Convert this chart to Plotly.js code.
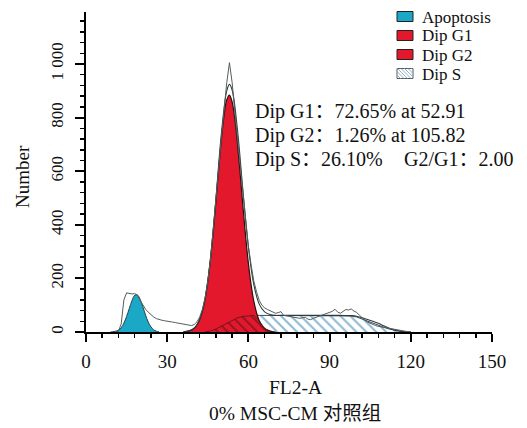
<!DOCTYPE html>
<html>
<head>
<meta charset="utf-8">
<script src="https://cdn.plot.ly/plotly-3.0.1.min.js"></script>
<style>html,body{margin:0;padding:0;background:#fff;}#chart{width:527px;height:428px;}</style>
</head>
<body>
<div id="chart"></div>
<script>
// ---------- data ----------
const rawX = [11,12,13,14,15,16,17,18,19,20,21,22,23,24,25,26,27,28,29,30,31,32,33,34,35,36,37,38,39,40,
  41,42,43,44,45,46,47,48,49,50,51,52,53,54,55,56,57,58,59,60,61,62,63,64,65,66,67,68,69,70,
  71,72,73,74,75,76,77,78,79,80,81,82,83,84,85,86,87,88,89,90,91,92,93,94,95,96,97,98,99,100,
  101,102,103,104,105,106,107,108,109,110,111,112,113,114,115,116,117,118,119,120];
const rawY = [0,3,30,120,146,144,142,143,138,118,100,85,74,64,56,50,46,44,42,41,39,37,35,33,31,29,27,25,24,28,
  38,56,85,128,190,272,375,490,610,725,830,930,1005,930,820,720,620,520,420,320,250,190,150,118,100,90,84,80,74,70,
  72,76,62,60,58,57,55,53,51,53,55,48,46,51,55,60,63,68,72,74,77,85,74,70,78,84,82,86,78,73,
  63,52,44,37,32,28,24,21,19,17,15,13,12,10,8,6,4,2,1,0];

const apoX = [9,10,11,12,13,14,15,16,17,18,19,20,21,22,23,24,25,26,27];
const apoY = [0,1,3,7,16,33,58,88,117,137,138,122,94,63,37,19,8,3,0];

const g1X = [36,37,38,39,40,41,42,43,44,45,46,47,48,49,50,51,52,53,54,55,56,57,58,59,60,61,62,63,64,65,66,67,68,69,70];
const g1Y = [1,2,4,7,14,27,47,78,124,189,272,373,487,606,717,808,866,884,858,794,698,585,466,354,256,176,115,72,42,24,13,7,3,1,0];

const g2X = [96,98,100,102,104,106,108,110,112,114,116];
const g2Y = [0,1,3,5,7,7.5,7,5,3,1,0];

const sX = [44,46,48,50,52,54,56,58,60,62,64,66,68,70,72,74,76,78,80,82,84,86,88,90,92,94,96,98,100,102,104,106,108,110,112,114,116,118,120];
const sY = [0,4,11,22,34,45,53,58,61,62,62,62,62,62,62,62,62,62,62,62,62,62,62,62,62,62,61,60,56,48,40,33,26,18,11,6,3,1,0];

// part of the S-phase fit that lies under the G1 peak
const sUnderX = [44,46,48,50,52,54,56,58,60,62,64,66,68,70];
const sUnderY = [0,4,11,22,34,45,53,58,61,62,42,13,3,0];

const fitX = [36,38,40,42,44,46,48,50,52,53,54,56,58,60,62,64,66,68,70,72,76,80,84,88,92,94,96,98,100,102,104,106,108,110,112,114,116,118,120];
const fitY = [1,4,14,47,124,276,498,739,900,924,903,751,524,317,177,104,75,65,62,62,62,62,62,62,62,62,61,61,59,53,47,40,33,23,14,7,3,1,0];

const markerX = [52];
const markerY = [-27];

const xTickVals = [0,30,60,90,120,150];
const xTickText = ['0','30','60','90','120','150'];
const yTickVals = [0,200,400,600,800,1000];
const yTickText = ['0','200','400','600','800','1 000'];

const legendNames = ['Apoptosis','Dip G1','Dip G2','Dip S'];
const statLines = ['Dip G1：72.65% at 52.91','Dip G2：1.26% at 105.82','Dip S：26.10%'];
const ratioText = 'G2/G1：2.00';
const xTitle = 'FL2-A';
const yTitle = 'Number';
const subTitle = '0% MSC-CM 对照组';

// ---------- styling ----------
const FONT = "'Liberation Serif', 'Noto Sans CJK SC', serif";
const CYAN = '#1ba8c6';
const RED = '#e3182c';
const HATCH = '#8db8d3';

// plot area in pixels
const L = 86, R = 492, T = 12, B = 332;
const px = v => (v - L) / (R - L);
const py = v => (B - v) / (B - T);

const traces = [
  {x: g2X, y: g2Y, type: 'scatter', mode: 'lines', fill: 'tozeroy', fillcolor: RED,
   line: {color: '#5a1a1a', width: 1}, hoverinfo: 'skip'},
  {x: sX, y: sY, type: 'scatter', mode: 'lines', fill: 'tozeroy',
   fillpattern: {shape: '\\', fgcolor: HATCH, bgcolor: 'white', size: 7, solidity: 0.28},
   line: {color: '#3c4d55', width: 1}, hoverinfo: 'skip'},
  {x: g1X, y: g1Y, type: 'scatter', mode: 'lines', fill: 'tozeroy', fillcolor: RED,
   line: {color: '#2a1010', width: 1.2, shape: 'spline'}, hoverinfo: 'skip'},
  {x: sUnderX, y: sUnderY, type: 'scatter', mode: 'lines', fill: 'tozeroy',
   fillpattern: {shape: '\\', fgcolor: '#8c1422', bgcolor: 'rgba(0,0,0,0)', size: 7, solidity: 0.25},
   line: {color: 'rgba(70,20,20,0.7)', width: 1}, hoverinfo: 'skip'},
  {x: apoX, y: apoY, type: 'scatter', mode: 'lines', fill: 'tozeroy', fillcolor: CYAN,
   line: {color: '#24424a', width: 1, shape: 'spline'}, hoverinfo: 'skip'},
  {x: fitX, y: fitY, type: 'scatter', mode: 'lines',
   line: {color: '#2f3c3c', width: 1.1, shape: 'spline'}, hoverinfo: 'skip'},
  {x: rawX, y: rawY, type: 'scatter', mode: 'lines',
   line: {color: '#555d5d', width: 1}, hoverinfo: 'skip'},
  {x: markerX, y: markerY, type: 'scatter', mode: 'markers', cliponaxis: false,
   marker: {symbol: 'triangle-up', size: 11, color: 'black'}, hoverinfo: 'skip'}
];

const annotations = [];
const shapes = [];

// stats text
const statY = [111.5, 135.5, 159.3];
statLines.forEach((t, i) => {
  annotations.push({text: t, xref: 'paper', yref: 'paper', x: px(253), y: py(statY[i]),
    xanchor: 'left', yanchor: 'middle', showarrow: false, font: {family: FONT, size: 20, color: '#111'}});
});
annotations.push({text: ratioText, xref: 'paper', yref: 'paper', x: px(402), y: py(statY[2]),
  xanchor: 'left', yanchor: 'middle', showarrow: false, font: {family: FONT, size: 20, color: '#111'}});

// axis titles
annotations.push({text: xTitle, xref: 'paper', yref: 'paper', x: px(295), y: py(387),
  xanchor: 'center', yanchor: 'middle', showarrow: false, font: {family: FONT, size: 19.5, color: '#111'}});
annotations.push({text: subTitle, xref: 'paper', yref: 'paper', x: px(295), y: py(413),
  xanchor: 'center', yanchor: 'middle', showarrow: false, font: {family: FONT, size: 19.5, color: '#111'}});
annotations.push({text: yTitle, xref: 'paper', yref: 'paper', x: px(22), y: py(177),
  xanchor: 'center', yanchor: 'middle', textangle: -90, showarrow: false, font: {family: FONT, size: 19, color: '#111'}});

// manual legend
const legColors = [CYAN, RED, RED, null];
const legY = [16.5, 35.5, 54.5, 73.5];
legendNames.forEach((name, i) => {
  const y0 = legY[i] - 5, y1 = legY[i] + 5, x0 = 397, x1 = 413;
  shapes.push({type: 'rect', xref: 'paper', yref: 'paper', x0: px(x0), x1: px(x1), y0: py(y1), y1: py(y0),
    fillcolor: legColors[i] || 'white', line: {color: legColors[i] ? '#222' : '#555', width: 1}, layer: 'above'});
  if (!legColors[i]) {
    const h = y1 - y0;
    for (let a = x0 - h; a < x1; a += 3.5) {
      const sx = Math.max(a, x0), ex = Math.min(a + h, x1);
      if (ex - sx > 0.5) {
        shapes.push({type: 'line', xref: 'paper', yref: 'paper', x0: px(sx), y0: py(y0 + (sx - a)),
          x1: px(ex), y1: py(y0 + (ex - a)), line: {color: '#8fb3cc', width: 1}, layer: 'above'});
      }
    }
  }
  annotations.push({text: name, xref: 'paper', yref: 'paper', x: px(421), y: py(legY[i] + 0.5),
    xanchor: 'left', yanchor: 'middle', showarrow: false, borderpad: 0,
    font: {family: FONT, size: 17, color: '#111'}});
});

const layout = {
  width: 527, height: 428,
  margin: {l: L, r: 527 - R, t: T, b: 428 - B},
  paper_bgcolor: 'white', plot_bgcolor: 'white',
  showlegend: false,
  font: {family: FONT, color: '#111'},
  xaxis: {
    range: [0, 150], showgrid: false, zeroline: false,
    showline: true, linecolor: 'black', linewidth: 2,
    ticks: 'outside', ticklen: 8, tickwidth: 2, tickcolor: 'black',
    tickmode: 'array', tickvals: xTickVals, ticktext: xTickText,
    minor: {tickmode: 'linear', tick0: 0, dtick: 6, ticks: 'outside', ticklen: 4, tickwidth: 1.5, tickcolor: 'black', showgrid: false},
    tickfont: {family: FONT, size: 19, color: '#111'},
    ticklabelstandoff: 3
  },
  yaxis: {
    range: [0, 1194], showgrid: false, zeroline: false,
    showline: true, linecolor: 'black', linewidth: 2,
    ticks: 'outside', ticklen: 9, tickwidth: 2, tickcolor: 'black',
    tickmode: 'array', tickvals: yTickVals, ticktext: yTickText, tickangle: -90,
    minor: {tickmode: 'linear', tick0: 0, dtick: 40, ticks: 'outside', ticklen: 4, tickwidth: 1.5, tickcolor: 'black', showgrid: false},
    tickfont: {family: FONT, size: 17, color: '#111'},
    ticklabelstandoff: 5
  },
  annotations: annotations,
  shapes: shapes
};

Plotly.newPlot('chart', traces, layout, {staticPlot: true, displayModeBar: false});
</script>
</body>
</html>
